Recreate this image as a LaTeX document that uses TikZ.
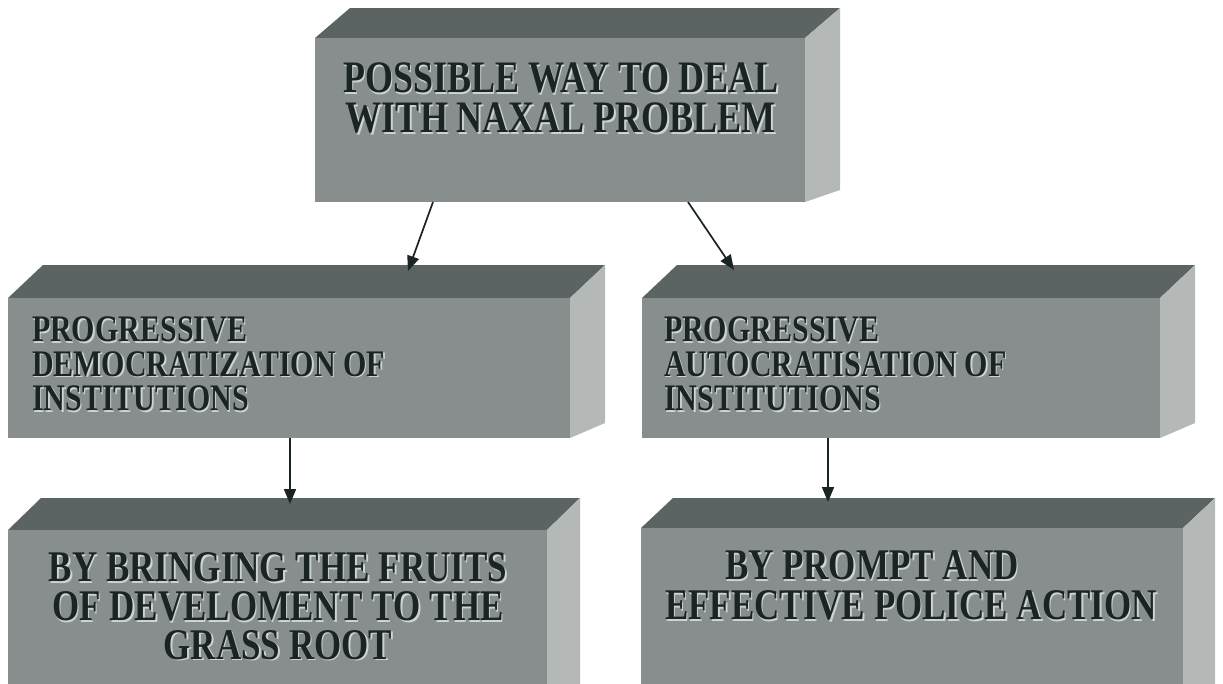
\documentclass[tikz,border=0pt]{standalone}
\usepackage{fontspec}
\setmainfont{Liberation Serif}
\usetikzlibrary{arrows.meta}

\definecolor{frontgray}{RGB}{136,142,141}
\definecolor{topgray}{RGB}{92,99,99}
\definecolor{sidegray}{RGB}{180,184,182}
\definecolor{inkdark}{RGB}{26,36,36}
\definecolor{inklight}{RGB}{206,211,209}

\tikzset{
  frontface/.style={fill=frontgray, draw=none, inner sep=0pt, outer sep=0pt, anchor=north west},
  toptone/.style={fill=topgray},
  sidetone/.style={fill=sidegray},
  label/.style={inner sep=0pt, outer sep=0pt, text=inkdark, font=\bfseries, yscale=1.25},
  glow/.style={label, text=inklight},
  conn/.style={draw=inkdark, line width=1.7pt, -{Triangle[length=15pt,width=12pt]}},
}

% #1 name, (#2,#3) front top-left, (#4,#5) front bottom-right,
% #6 depth to the right, #7 rise of the top edge, #8 rise of the side's lower edge
\newcommand{\slab}[8]{%
  \fill[toptone] (#2,#3) -- (#2+#6,#3-#7) -- (#4+#6,#3-#7) -- (#4,#3) -- cycle;
  \fill[sidetone] (#4,#3) -- (#4+#6,#3-#7) -- (#4+#6,#5-#8) -- (#4,#5) -- cycle;
  \node[frontface, minimum width={(#4-#2)*1pt}, minimum height={(#5-#3)*1pt}] (#1) at (#2,#3) {};
}

\begin{document}
\begin{tikzpicture}[x=1pt, y=-1pt]
  \useasboundingbox (0,0) rectangle (1223,683);
  \fill[white] (0,0) rectangle (1223,683);
  \clip (0,0) rectangle (1223,683);

  % blocks
  \slab{root}{315}{38}{805}{202}{35}{30}{12}
  \slab{demo}{8}{298}{570}{438}{35}{33}{15}
  \slab{auto}{642}{298}{1160}{438}{35}{33}{15}
  \slab{grass}{8}{530}{547}{700}{33}{32}{12}
  \slab{police}{641}{528}{1183}{700}{32}{30}{12}

  % labels: a light copy set just below and to the right gives the raised look
  \node[glow, align=center, anchor=north, font=\bfseries\fontsize{36}{32}\selectfont] (root-hl) at (562.5,64.5) {POSSIBLE WAY TO DEAL\\WITH NAXAL PROBLEM};
  \node[label, align=center, anchor=north, font=\bfseries\fontsize{36}{32}\selectfont] (root-txt) at (561,63) {POSSIBLE WAY TO DEAL\\WITH NAXAL PROBLEM};

  \node[glow, align=left, anchor=north west, font=\bfseries\fontsize{30}{27.6}\selectfont] (demo-hl) at (33.5,318.5) {PROGRESSIVE\\DEMOCRATIZATION OF\\INSTITUTIONS};
  \node[label, align=left, anchor=north west, font=\bfseries\fontsize{30}{27.6}\selectfont] (demo-txt) at (32,317) {PROGRESSIVE\\DEMOCRATIZATION OF\\INSTITUTIONS};

  \node[glow, align=left, anchor=north west, font=\bfseries\fontsize{30}{27.6}\selectfont] (auto-hl) at (665.5,318.5) {PROGRESSIVE\\AUTOCRATISATION OF\\INSTITUTIONS};
  \node[label, align=left, anchor=north west, font=\bfseries\fontsize{30}{27.6}\selectfont] (auto-txt) at (664,317) {PROGRESSIVE\\AUTOCRATISATION OF\\INSTITUTIONS};

  \node[glow, align=center, anchor=north, font=\bfseries\fontsize{35}{31}\selectfont] (grass-hl) at (279.5,554.5) {BY BRINGING THE FRUITS\\OF DEVELOMENT TO THE\\GRASS ROOT};
  \node[label, align=center, anchor=north, font=\bfseries\fontsize{35}{31}\selectfont] (grass-txt) at (278,553) {BY BRINGING THE FRUITS\\OF DEVELOMENT TO THE\\GRASS ROOT};

  \node[glow, align=left, anchor=north west, font=\bfseries\fontsize{35}{32}\selectfont] (police-hl) at (666.5,552.5) {\hspace*{60pt}BY PROMPT AND\\EFFECTIVE POLICE ACTION};
  \node[label, align=left, anchor=north west, font=\bfseries\fontsize{35}{32}\selectfont] (police-txt) at (665,551) {\hspace*{60pt}BY PROMPT AND\\EFFECTIVE POLICE ACTION};

  % connector ends
  \coordinate (root-l) at (433,202);
  \coordinate (root-r) at (688,202);
  \coordinate (demo-in) at (408,271);
  \coordinate (auto-in) at (734,270);
  \coordinate (demo-out) at (290,438);
  \coordinate (auto-out) at (828,438);
  \coordinate (grass-in) at (290,504);
  \coordinate (police-in) at (828,502);

  \draw[conn] (root-l) -- (demo-in);
  \draw[conn] (root-r) -- (auto-in);
  \draw[conn] (demo-out) -- (grass-in);
  \draw[conn] (auto-out) -- (police-in);
\end{tikzpicture}
\end{document}
